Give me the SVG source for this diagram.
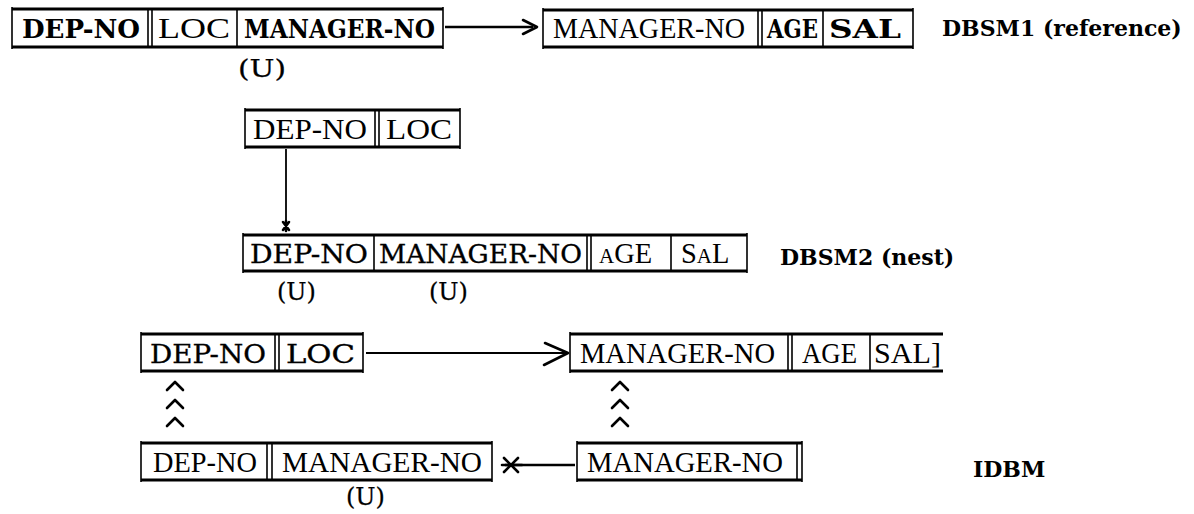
<svg xmlns="http://www.w3.org/2000/svg" width="1194" height="514" viewBox="0 0 1194 514">
<style>
.h{stroke:#000;stroke-width:3;fill:none}
.v{stroke:#000;stroke-width:1.6;fill:none}
.tm{font-family:"Liberation Serif","Times New Roman",serif;font-size:28.5px;fill:#000}
.cb{font-family:"DejaVu Serif",serif;font-weight:bold;font-size:26px;fill:#000}
.cn{font-family:"DejaVu Serif",serif;font-size:26px;fill:#000;stroke:#000;stroke-width:0.35}
.u{font-family:"DejaVu Serif",serif;font-size:24px;fill:#000;stroke:#000;stroke-width:0.25}
.lb{font-family:"DejaVu Serif",serif;font-weight:bold;font-size:22px;fill:#000}
.c{stroke:#000;stroke-width:1.8;fill:none}
.ct{stroke:#000;stroke-width:2.6;fill:none}
.ch{stroke:#000;stroke-width:2.6;fill:none;stroke-linecap:round;stroke-linejoin:round}
</style>
<rect width="1194" height="514" fill="#fff"/>

<g id="dbsm1-department">
<path class="h" d="M12 9H443M12 47H443"/>
<path class="v" d="M12 7V49M148 9V47M152 9V47M237 9V47M443 7V49"/>
<text class="cb" x="22" y="38" textLength="118" lengthAdjust="spacingAndGlyphs">DEP-NO</text>
<text class="tm" x="158" y="38" textLength="72" lengthAdjust="spacingAndGlyphs">LOC</text>
<text class="cb" x="244" y="38" textLength="191" lengthAdjust="spacingAndGlyphs">MANAGER-NO</text>
<text class="u" x="238" y="77" textLength="48" lengthAdjust="spacingAndGlyphs">(U)</text>
</g>

<g id="dbsm1-manager">
<path class="h" d="M543 10H913M543 47H913"/>
<path class="v" d="M543 8V49M758 10V47M762 10V47M823 10V47M913 8V49"/>
<text class="tm" x="553" y="38" textLength="192" lengthAdjust="spacingAndGlyphs">MANAGER-NO</text>
<text class="cb" x="767" y="38" textLength="51" lengthAdjust="spacingAndGlyphs">AGE</text>
<text class="cb" x="829" y="38" textLength="72" lengthAdjust="spacingAndGlyphs">SAL</text>
</g>

<g id="dbsm2-department">
<path class="h" d="M245 110H460M245 147H460"/>
<path class="v" d="M245 108V149M375 110V147M379 110V147M460 108V149"/>
<text class="tm" x="253" y="139" textLength="114" lengthAdjust="spacingAndGlyphs">DEP-NO</text>
<text class="tm" x="386" y="139" textLength="66" lengthAdjust="spacingAndGlyphs">LOC</text>
</g>

<g id="dbsm2-nest">
<path class="h" d="M243 235H747M243 271H747"/>
<path class="v" d="M243 233V273M374 235V271M587 235V271M591 235V271M671 235V271M747 233V273"/>
<text class="cn" x="250" y="263" textLength="118" lengthAdjust="spacingAndGlyphs">DEP-NO</text>
<text class="cn" x="379" y="263" textLength="203" lengthAdjust="spacingAndGlyphs">MANAGER-NO</text>
<text class="tm" x="599" y="263"><tspan font-size="21">A</tspan>GE</text>
<text class="tm" x="681" y="263">S<tspan font-size="21">A</tspan>L</text>
<text class="u" x="277" y="300">(U)</text>
<text class="u" x="429" y="300">(U)</text>
</g>

<g id="idbm-department">
<path class="h" d="M141 334H363M141 371H363"/>
<path class="v" d="M141 332V373M275 334V371M279 334V371M363 332V373"/>
<text class="cn" x="150" y="363" textLength="116" lengthAdjust="spacingAndGlyphs">DEP-NO</text>
<text class="cn" x="286" y="363" textLength="69" lengthAdjust="spacingAndGlyphs">LOC</text>
</g>

<g id="idbm-manager">
<path class="h" d="M570 334H943M570 371H943"/>
<path class="v" d="M570 332V373M788 334V371M792 334V371M870 334V371"/>
<text class="tm" x="580" y="363" textLength="195" lengthAdjust="spacingAndGlyphs">MANAGER-NO</text>
<text class="tm" x="802" y="363" textLength="55" lengthAdjust="spacingAndGlyphs">AGE</text>
<text class="tm" x="874" y="363" textLength="67" lengthAdjust="spacingAndGlyphs">SAL]</text>
</g>

<g id="idbm-dept-manager">
<path class="h" d="M141 443H492M141 480H492"/>
<path class="v" d="M141 441V482M267 443V480M272 443V480M492 441V482"/>
<text class="tm" x="153" y="472" textLength="104" lengthAdjust="spacingAndGlyphs">DEP-NO</text>
<text class="tm" x="282" y="472" textLength="200" lengthAdjust="spacingAndGlyphs">MANAGER-NO</text>
<text class="u" x="346" y="505">(U)</text>
</g>

<g id="idbm-manager-no">
<path class="h" d="M577 443H802M577 480H802"/>
<path class="v" d="M577 441V482M797 443V480M802 441V482"/>
<text class="tm" x="587" y="472" textLength="196" lengthAdjust="spacingAndGlyphs">MANAGER-NO</text>
</g>

<g id="labels">
<text class="lb" x="942" y="36">DBSM1 (reference)</text>
<text class="lb" x="780" y="265">DBSM2 (nest)</text>
<text class="lb" x="973" y="477">IDBM</text>
</g>

<g id="connectors">
<path class="ct" d="M445 27H533"/>
<path class="ch" d="M523 20L537 27L523 34"/>
<path class="c" d="M286 149V226"/>
<path class="ch" d="M283 222L289 230M289 222L283 230M286 221V231"/>
<path class="c" d="M366 353H567"/>
<path class="ch" d="M545 343L568 353L544 365"/>
<path class="ch" d="M167 390L175 382L183 390M167 408L175 400L183 408M167 426L175 418L183 426"/>
<path class="ch" d="M612 390L620 382L628 390M612 408L620 400L628 408M612 426L620 418L628 426"/>
<path class="ct" d="M505 465H575"/>
<path class="ch" d="M504 458L518 472M504 472L518 458M502 465H522"/>
</g>
</svg>
